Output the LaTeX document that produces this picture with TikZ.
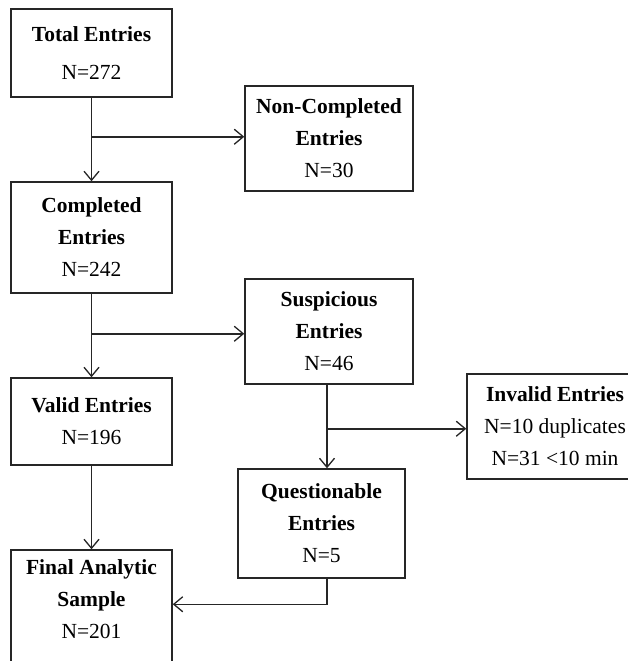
\documentclass[tikz,border=0pt]{standalone}
\usepackage{fontspec}
\setmainfont{Liberation Serif}
\usetikzlibrary{arrows.meta}
\begin{document}
\begin{tikzpicture}[x=1pt,y=-1pt,
  box/.style={draw=black!85, line width=1.5pt, align=center, inner sep=0pt,
    font=\fontsize{21.5}{32}\selectfont},
  arr/.style={draw=black!85, line width=1.5pt, -{Straight Barb[length=9pt,width=15pt,line width=1.3pt]}}]
\useasboundingbox (0,0) rectangle (628,661);
\clip (0,0) rectangle (628,661);
\fill[white] (0,0) rectangle (628,661);
\node[box, minimum width=161, minimum height=88] (total) at (91.5,53)
  {\textbf{Total Entries}\\[6pt]N=272};
\node[box, minimum width=168, minimum height=105] (noncomp) at (329,138.5)
  {\textbf{Non-Completed}\\\textbf{Entries}\\N=30};
\node[box, minimum width=161, minimum height=111] (comp) at (91.5,237.5)
  {\textbf{Completed}\\\textbf{Entries}\\N=242};
\node[box, minimum width=168, minimum height=105] (susp) at (329,331.5)
  {\textbf{Suspicious}\\\textbf{Entries}\\N=46};
\node[box, minimum width=161, minimum height=87] (valid) at (91.5,421.5)
  {\textbf{Valid Entries}\\N=196};
\node[box, minimum width=176, minimum height=105] (invalid) at (555,426.5)
  {\textbf{Invalid Entries}\\N=10 duplicates\\N=31 <10 min};
\node[box, minimum width=167, minimum height=109] (quest) at (321.5,523.5)
  {\textbf{Questionable}\\\textbf{Entries}\\N=5};
\node[box, minimum width=161, minimum height=140] (final) at (91.5,620)
  {\textbf{Final Analytic}\\\textbf{Sample}\\N=201\\\strut};
% connectors
\coordinate (b1) at ([yshift=-39]total.south);
\coordinate (b2) at ([yshift=-40]comp.south);
\coordinate (s1) at ([xshift=-2]susp.south);
\coordinate (b3) at ([yshift=-44]s1);
\coordinate (fq) at ([yshift=-55]final.north east);
\draw[arr] (total.south) -- (comp.north);
\draw[arr] (b1) -- (b1 -| noncomp.west);
\draw[arr] (comp.south) -- (valid.north);
\draw[arr] (b2) -- (b2 -| susp.west);
\draw[arr] (s1) -- (s1 |- quest.north);
\draw[arr] (b3) -- (b3 -| invalid.west);
\draw[arr] (valid.south) -- (final.north);
\draw[arr] (s1 |- quest.south) |- (fq);
\end{tikzpicture}
\end{document}
